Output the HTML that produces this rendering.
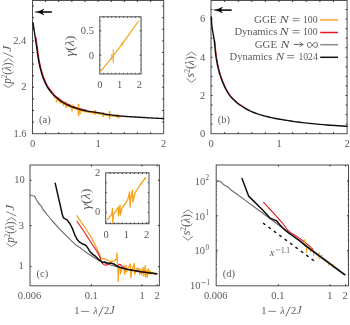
<!DOCTYPE html>
<html><head><meta charset="utf-8"><style>
html,body{margin:0;padding:0;background:#fff;width:350px;height:325px;overflow:hidden}
svg{display:block;will-change:transform}
text{font-family:"Liberation Serif",serif}
</style></head><body>
<svg width="350" height="325" viewBox="0 0 350 325">
<rect x="32.50" y="0.50" width="131.20" height="133.20" fill="none" stroke="#4e4e4e" stroke-width="1.0"/>
<line x1="45.62" y1="133.70" x2="45.62" y2="132.20" stroke="#2a2a2a" stroke-width="1.0" />
<line x1="45.62" y1="0.50" x2="45.62" y2="2.00" stroke="#2a2a2a" stroke-width="1.0" />
<line x1="58.74" y1="133.70" x2="58.74" y2="132.20" stroke="#2a2a2a" stroke-width="1.0" />
<line x1="58.74" y1="0.50" x2="58.74" y2="2.00" stroke="#2a2a2a" stroke-width="1.0" />
<line x1="71.86" y1="133.70" x2="71.86" y2="132.20" stroke="#2a2a2a" stroke-width="1.0" />
<line x1="71.86" y1="0.50" x2="71.86" y2="2.00" stroke="#2a2a2a" stroke-width="1.0" />
<line x1="84.98" y1="133.70" x2="84.98" y2="132.20" stroke="#2a2a2a" stroke-width="1.0" />
<line x1="84.98" y1="0.50" x2="84.98" y2="2.00" stroke="#2a2a2a" stroke-width="1.0" />
<line x1="98.10" y1="133.70" x2="98.10" y2="132.20" stroke="#2a2a2a" stroke-width="1.0" />
<line x1="98.10" y1="0.50" x2="98.10" y2="2.00" stroke="#2a2a2a" stroke-width="1.0" />
<line x1="111.22" y1="133.70" x2="111.22" y2="132.20" stroke="#2a2a2a" stroke-width="1.0" />
<line x1="111.22" y1="0.50" x2="111.22" y2="2.00" stroke="#2a2a2a" stroke-width="1.0" />
<line x1="124.34" y1="133.70" x2="124.34" y2="132.20" stroke="#2a2a2a" stroke-width="1.0" />
<line x1="124.34" y1="0.50" x2="124.34" y2="2.00" stroke="#2a2a2a" stroke-width="1.0" />
<line x1="137.46" y1="133.70" x2="137.46" y2="132.20" stroke="#2a2a2a" stroke-width="1.0" />
<line x1="137.46" y1="0.50" x2="137.46" y2="2.00" stroke="#2a2a2a" stroke-width="1.0" />
<line x1="150.58" y1="133.70" x2="150.58" y2="132.20" stroke="#2a2a2a" stroke-width="1.0" />
<line x1="150.58" y1="0.50" x2="150.58" y2="2.00" stroke="#2a2a2a" stroke-width="1.0" />
<line x1="32.50" y1="122.10" x2="34.00" y2="122.10" stroke="#2a2a2a" stroke-width="1.0" />
<line x1="163.70" y1="122.10" x2="162.20" y2="122.10" stroke="#2a2a2a" stroke-width="1.0" />
<line x1="32.50" y1="110.50" x2="34.00" y2="110.50" stroke="#2a2a2a" stroke-width="1.0" />
<line x1="163.70" y1="110.50" x2="162.20" y2="110.50" stroke="#2a2a2a" stroke-width="1.0" />
<line x1="32.50" y1="98.90" x2="34.00" y2="98.90" stroke="#2a2a2a" stroke-width="1.0" />
<line x1="163.70" y1="98.90" x2="162.20" y2="98.90" stroke="#2a2a2a" stroke-width="1.0" />
<line x1="32.50" y1="87.30" x2="34.00" y2="87.30" stroke="#2a2a2a" stroke-width="1.0" />
<line x1="163.70" y1="87.30" x2="162.20" y2="87.30" stroke="#2a2a2a" stroke-width="1.0" />
<line x1="32.50" y1="75.70" x2="34.00" y2="75.70" stroke="#2a2a2a" stroke-width="1.0" />
<line x1="163.70" y1="75.70" x2="162.20" y2="75.70" stroke="#2a2a2a" stroke-width="1.0" />
<line x1="32.50" y1="64.10" x2="34.00" y2="64.10" stroke="#2a2a2a" stroke-width="1.0" />
<line x1="163.70" y1="64.10" x2="162.20" y2="64.10" stroke="#2a2a2a" stroke-width="1.0" />
<line x1="32.50" y1="52.50" x2="34.00" y2="52.50" stroke="#2a2a2a" stroke-width="1.0" />
<line x1="163.70" y1="52.50" x2="162.20" y2="52.50" stroke="#2a2a2a" stroke-width="1.0" />
<line x1="32.50" y1="40.90" x2="34.00" y2="40.90" stroke="#2a2a2a" stroke-width="1.0" />
<line x1="163.70" y1="40.90" x2="162.20" y2="40.90" stroke="#2a2a2a" stroke-width="1.0" />
<line x1="32.50" y1="29.30" x2="34.00" y2="29.30" stroke="#2a2a2a" stroke-width="1.0" />
<line x1="163.70" y1="29.30" x2="162.20" y2="29.30" stroke="#2a2a2a" stroke-width="1.0" />
<line x1="32.50" y1="17.70" x2="34.00" y2="17.70" stroke="#2a2a2a" stroke-width="1.0" />
<line x1="163.70" y1="17.70" x2="162.20" y2="17.70" stroke="#2a2a2a" stroke-width="1.0" />
<line x1="32.50" y1="6.10" x2="34.00" y2="6.10" stroke="#2a2a2a" stroke-width="1.0" />
<line x1="163.70" y1="6.10" x2="162.20" y2="6.10" stroke="#2a2a2a" stroke-width="1.0" />
<text x="26.30" y="44.00" text-anchor="end" font-size="10.5" fill="#5a5a5a" >2.4</text>
<text x="26.50" y="89.80" text-anchor="end" font-size="10.5" fill="#5a5a5a" >2</text>
<text x="26.50" y="136.60" text-anchor="end" font-size="10.5" fill="#5a5a5a" >1.6</text>
<text x="32.50" y="147.20" text-anchor="middle" font-size="10.5" fill="#5a5a5a" >0</text>
<text x="98.10" y="147.20" text-anchor="middle" font-size="10.5" fill="#5a5a5a" >1</text>
<text x="163.70" y="147.20" text-anchor="middle" font-size="10.5" fill="#5a5a5a" >2</text>
<text x="44.90" y="123.40" text-anchor="middle" font-size="10.5" fill="#5a5a5a" >(a)</text>
<g transform="translate(10.80,66.40) rotate(-90)"><path d="M-17.90,-7.4 L-21.30,-2.45 L-17.90,2.5" fill="none" stroke="#5a5a5a" stroke-width="0.75"/><text x="-17.30" y="0" font-size="12" fill="#5a5a5a" textLength="21.20" lengthAdjust="spacingAndGlyphs"><tspan font-style="italic">p</tspan><tspan font-size="7.5" dy="-4.2">2</tspan><tspan dy="4.2">(</tspan><tspan font-style="italic">λ</tspan>)</text><path d="M4.40,-7.4 L7.90,-2.45 L4.40,2.5" fill="none" stroke="#5a5a5a" stroke-width="0.75"/><path d="M9.40,2.4 L13.90,-7.6" fill="none" stroke="#5a5a5a" stroke-width="0.75"/><text x="14.60" y="0" font-size="12" fill="#5a5a5a" textLength="6.20" lengthAdjust="spacingAndGlyphs"><tspan font-style="italic">J</tspan></text></g>
<line x1="40.00" y1="12.00" x2="51.80" y2="12.00" stroke="#000" stroke-width="1.5" />
<path d="M35.00,12.00 Q40.00,11.40 44.00,9.00 Q42.00,11.20 42.50,12.00 Q42.00,12.80 44.00,15.00 Q40.00,12.60 35.00,12.00 Z" fill="#000" stroke="#000" stroke-width="0.4"/>
<polyline points="35.84,37.44 36.00,38.43 36.15,39.43 36.30,40.40 36.44,41.38 36.59,42.37 36.73,43.38 36.88,44.39 37.01,45.38 37.15,46.36 37.28,47.30 37.40,48.20 37.51,49.05 37.61,49.84 37.70,50.61 37.79,51.35 37.88,52.09 37.98,52.83 38.08,53.60 38.20,54.40 38.33,55.22 38.45,56.05 38.59,56.89 38.73,57.74 38.87,58.61 39.03,59.50 39.21,60.43 39.40,61.40 39.61,62.42 39.82,63.48 40.06,64.58 40.30,65.70 40.56,66.84 40.82,67.97 41.11,69.10 41.40,70.20 41.70,71.29 42.01,72.37 42.33,73.45 42.66,74.53 43.01,75.60 43.38,76.67 43.78,77.74 44.20,78.80 44.65,79.87 45.12,80.94 45.62,82.02 46.13,83.09 46.67,84.15 47.23,85.20 47.80,86.21 48.40,87.20 49.03,88.17 49.70,89.13 50.40,90.09 51.11,91.01 51.83,91.91 52.54,92.76 53.24,93.56 53.90,94.30 54.54,94.97 55.17,95.59 55.80,96.15 56.41,96.67 57.00,97.15 57.59,97.62 58.15,98.06 58.70,98.50 59.21,98.92 59.69,99.30 60.15,99.66 60.59,99.99 61.03,100.32 61.49,100.64 61.97,100.96 62.50,101.30 63.07,101.65 63.67,101.99 64.29,102.34 64.92,102.69 65.57,103.03 66.22,103.36 66.87,103.69 67.50,104.00 68.12,104.30 68.75,104.60 69.38,104.88 70.00,105.16 70.62,105.43 71.25,105.70 71.88,105.95 72.50,106.20 73.12,106.44 73.75,106.66 74.38,106.88 75.00,107.09 75.62,107.30 76.25,107.50 76.88,107.70 77.50,107.90 78.12,108.10 78.73,108.30 79.33,108.49 79.94,108.68 80.55,108.87 81.18,109.05 81.83,109.23 82.50,109.40 83.20,109.57 83.91,109.73 84.63,109.88 85.38,110.03 86.13,110.18" fill="none" stroke="#e8141e" stroke-width="1.2" stroke-linejoin="round" stroke-linecap="round" />
<polyline points="54.04,96.47 54.67,97.09 55.30,97.65 55.91,98.17 56.50,98.65 57.09,99.12 57.65,99.56 58.20,100.00 58.71,100.42 59.19,100.80 59.65,101.16 60.09,101.49 60.53,101.82 60.99,102.14 61.47,102.46 62.00,102.80 62.57,103.15 63.17,103.49 63.79,103.84 64.42,104.19 65.07,104.53 65.72,104.86 66.37,105.19 67.00,105.50 67.62,105.80 68.25,106.10 68.88,106.38 69.50,106.66 70.12,106.93 70.75,107.20 71.38,107.45 72.00,107.70 72.62,107.94 73.25,108.16 73.88,108.38 74.50,108.59 75.12,108.80 75.75,109.00 76.38,109.20 77.00,109.40 77.62,109.60 78.23,109.80 78.83,109.99 79.44,110.18 80.05,110.37 80.68,110.55 81.33,110.73 82.00,110.90 82.70,111.07 83.41,111.23 84.13,111.38 84.88,111.53 85.63,111.68 86.41,111.82 87.20,111.96 88.00,112.10 88.84,112.24 89.73,112.37 90.64,112.50 91.56,112.62 92.48,112.75 93.37,112.87 94.21,112.99 95.00,113.10 95.72,113.21 96.39,113.31 97.02,113.40 97.62,113.49 98.21,113.59 98.80,113.68 99.39,113.79 100.00,113.90 100.62,114.03 101.25,114.16 101.88,114.31 102.50,114.46 103.12,114.60 103.75,114.75 104.38,114.88 105.00,115.00 105.59,115.10 106.13,115.19 106.66,115.27 107.19,115.34 107.76,115.42 108.40,115.50 109.14,115.59 110.00,115.70 111.01,115.83 112.15,115.98 113.38,116.14 114.69,116.30 116.03,116.46 117.38,116.62 118.72,116.77 120.00,116.90" fill="none" stroke="#f8a31c" stroke-width="1.3" stroke-linejoin="round" stroke-linecap="round" />
<line x1="56.50" y1="99.80" x2="56.50" y2="102.50" stroke="#f8a31c" stroke-width="1.6" />
<line x1="60.50" y1="100.80" x2="60.50" y2="103.50" stroke="#f8a31c" stroke-width="1.6" />
<line x1="63.50" y1="103.50" x2="63.50" y2="105.80" stroke="#f8a31c" stroke-width="1.6" />
<line x1="66.00" y1="101.50" x2="66.00" y2="108.00" stroke="#f8a31c" stroke-width="1.6" />
<line x1="72.00" y1="104.50" x2="72.00" y2="111.50" stroke="#f8a31c" stroke-width="1.6" />
<line x1="78.50" y1="103.80" x2="78.50" y2="116.00" stroke="#f8a31c" stroke-width="1.6" />
<line x1="80.00" y1="109.50" x2="80.00" y2="114.50" stroke="#f8a31c" stroke-width="1.6" />
<line x1="94.70" y1="110.00" x2="94.70" y2="115.00" stroke="#f8a31c" stroke-width="1.6" />
<line x1="103.30" y1="112.00" x2="103.30" y2="117.20" stroke="#f8a31c" stroke-width="1.6" />
<line x1="109.60" y1="110.90" x2="109.60" y2="118.90" stroke="#f8a31c" stroke-width="1.6" />
<line x1="118.00" y1="114.00" x2="118.00" y2="118.20" stroke="#f8a31c" stroke-width="1.6" />
<polyline points="33.00,22.60 33.06,23.02 33.14,23.57 33.24,24.23 33.35,24.96 33.46,25.74 33.58,26.52 33.69,27.29 33.80,28.00 33.90,28.66 33.99,29.30 34.08,29.93 34.17,30.56 34.27,31.21 34.37,31.90 34.48,32.62 34.60,33.40 34.73,34.24 34.87,35.14 35.03,36.08 35.18,37.05 35.34,38.04 35.50,39.03 35.65,40.03 35.80,41.00 35.94,41.98 36.09,42.97 36.23,43.98 36.38,44.99 36.51,45.98 36.65,46.96 36.78,47.90 36.90,48.80 37.01,49.65 37.11,50.44 37.20,51.21 37.29,51.95 37.38,52.69 37.48,53.43 37.58,54.20 37.70,55.00 37.83,55.82 37.95,56.65 38.09,57.49 38.23,58.34 38.37,59.21 38.53,60.10 38.71,61.03 38.90,62.00 39.11,63.02 39.32,64.08 39.56,65.18 39.80,66.30 40.06,67.44 40.32,68.57 40.61,69.70 40.90,70.80 41.20,71.89 41.51,72.97 41.83,74.05 42.16,75.13 42.51,76.20 42.88,77.27 43.28,78.34 43.70,79.40 44.15,80.47 44.62,81.54 45.12,82.62 45.63,83.69 46.17,84.75 46.73,85.80 47.30,86.81 47.90,87.80 48.53,88.77 49.20,89.73 49.90,90.69 50.61,91.61 51.33,92.51 52.04,93.36 52.74,94.16 53.40,94.90 54.04,95.57 54.67,96.19 55.30,96.75 55.91,97.27 56.50,97.75 57.09,98.22 57.65,98.66 58.20,99.10 58.71,99.52 59.19,99.90 59.65,100.26 60.09,100.59 60.53,100.92 60.99,101.24 61.47,101.56 62.00,101.90 62.57,102.25 63.17,102.59 63.79,102.94 64.42,103.29 65.07,103.63 65.72,103.96 66.37,104.29 67.00,104.60 67.62,104.90 68.25,105.20 68.88,105.48 69.50,105.76 70.12,106.03 70.75,106.30 71.38,106.55 72.00,106.80 72.62,107.04 73.25,107.26 73.88,107.48 74.50,107.69 75.12,107.90 75.75,108.10 76.38,108.30 77.00,108.50 77.62,108.70 78.23,108.90 78.83,109.09 79.44,109.28 80.05,109.47 80.68,109.65 81.33,109.83 82.00,110.00 82.70,110.17 83.41,110.33 84.13,110.48 84.88,110.63 85.63,110.78 86.41,110.92 87.20,111.06 88.00,111.20 88.84,111.34 89.73,111.47 90.64,111.60 91.56,111.72 92.48,111.85 93.37,111.97 94.21,112.09 95.00,112.20 95.72,112.31 96.39,112.41 97.02,112.50 97.62,112.59 98.21,112.69 98.80,112.78 99.39,112.89 100.00,113.00 100.62,113.13 101.25,113.26 101.88,113.41 102.50,113.56 103.12,113.70 103.75,113.85 104.38,113.98 105.00,114.10 105.59,114.20 106.13,114.29 106.66,114.37 107.19,114.44 107.76,114.52 108.40,114.60 109.14,114.69 110.00,114.80 111.01,114.93 112.15,115.08 113.38,115.24 114.69,115.40 116.03,115.56 117.38,115.72 118.72,115.87 120.00,116.00 121.25,116.11 122.50,116.21 123.75,116.30 125.00,116.39 126.25,116.47 127.50,116.54 128.75,116.62 130.00,116.70 131.24,116.78 132.45,116.85 133.66,116.93 134.88,117.00 136.10,117.07 137.36,117.15 138.65,117.22 140.00,117.30 141.41,117.38 142.87,117.47 144.38,117.56 145.91,117.65 147.45,117.74 148.99,117.83 150.51,117.92 152.00,118.00 153.54,118.08 155.18,118.17 156.85,118.26 158.50,118.34 160.05,118.42 161.45,118.49 162.62,118.55 163.50,118.60" fill="none" stroke="#101010" stroke-width="1.4" stroke-linejoin="round" stroke-linecap="round" />
<rect x="99.80" y="16.80" width="41.30" height="57.20" fill="none" stroke="#4e4e4e" stroke-width="1.0"/>
<line x1="103.75" y1="74.00" x2="103.75" y2="72.80" stroke="#2a2a2a" stroke-width="0.7" />
<line x1="103.75" y1="16.80" x2="103.75" y2="18.00" stroke="#2a2a2a" stroke-width="0.7" />
<line x1="107.70" y1="74.00" x2="107.70" y2="72.80" stroke="#2a2a2a" stroke-width="0.7" />
<line x1="107.70" y1="16.80" x2="107.70" y2="18.00" stroke="#2a2a2a" stroke-width="0.7" />
<line x1="111.65" y1="74.00" x2="111.65" y2="72.80" stroke="#2a2a2a" stroke-width="0.7" />
<line x1="111.65" y1="16.80" x2="111.65" y2="18.00" stroke="#2a2a2a" stroke-width="0.7" />
<line x1="115.60" y1="74.00" x2="115.60" y2="72.80" stroke="#2a2a2a" stroke-width="0.7" />
<line x1="115.60" y1="16.80" x2="115.60" y2="18.00" stroke="#2a2a2a" stroke-width="0.7" />
<line x1="119.55" y1="74.00" x2="119.55" y2="72.80" stroke="#2a2a2a" stroke-width="0.7" />
<line x1="119.55" y1="16.80" x2="119.55" y2="18.00" stroke="#2a2a2a" stroke-width="0.7" />
<line x1="123.50" y1="74.00" x2="123.50" y2="72.80" stroke="#2a2a2a" stroke-width="0.7" />
<line x1="123.50" y1="16.80" x2="123.50" y2="18.00" stroke="#2a2a2a" stroke-width="0.7" />
<line x1="127.45" y1="74.00" x2="127.45" y2="72.80" stroke="#2a2a2a" stroke-width="0.7" />
<line x1="127.45" y1="16.80" x2="127.45" y2="18.00" stroke="#2a2a2a" stroke-width="0.7" />
<line x1="131.40" y1="74.00" x2="131.40" y2="72.80" stroke="#2a2a2a" stroke-width="0.7" />
<line x1="131.40" y1="16.80" x2="131.40" y2="18.00" stroke="#2a2a2a" stroke-width="0.7" />
<line x1="135.35" y1="74.00" x2="135.35" y2="72.80" stroke="#2a2a2a" stroke-width="0.7" />
<line x1="135.35" y1="16.80" x2="135.35" y2="18.00" stroke="#2a2a2a" stroke-width="0.7" />
<line x1="139.30" y1="74.00" x2="139.30" y2="72.80" stroke="#2a2a2a" stroke-width="0.7" />
<line x1="139.30" y1="16.80" x2="139.30" y2="18.00" stroke="#2a2a2a" stroke-width="0.7" />
<line x1="99.80" y1="69.52" x2="100.80" y2="69.52" stroke="#2a2a2a" stroke-width="0.45" />
<line x1="141.10" y1="69.52" x2="140.10" y2="69.52" stroke="#2a2a2a" stroke-width="0.45" />
<line x1="99.80" y1="64.68" x2="100.80" y2="64.68" stroke="#2a2a2a" stroke-width="0.45" />
<line x1="141.10" y1="64.68" x2="140.10" y2="64.68" stroke="#2a2a2a" stroke-width="0.45" />
<line x1="99.80" y1="59.84" x2="100.80" y2="59.84" stroke="#2a2a2a" stroke-width="0.45" />
<line x1="141.10" y1="59.84" x2="140.10" y2="59.84" stroke="#2a2a2a" stroke-width="0.45" />
<line x1="99.80" y1="55.00" x2="100.80" y2="55.00" stroke="#2a2a2a" stroke-width="0.45" />
<line x1="141.10" y1="55.00" x2="140.10" y2="55.00" stroke="#2a2a2a" stroke-width="0.45" />
<line x1="99.80" y1="50.16" x2="100.80" y2="50.16" stroke="#2a2a2a" stroke-width="0.45" />
<line x1="141.10" y1="50.16" x2="140.10" y2="50.16" stroke="#2a2a2a" stroke-width="0.45" />
<line x1="99.80" y1="45.32" x2="100.80" y2="45.32" stroke="#2a2a2a" stroke-width="0.45" />
<line x1="141.10" y1="45.32" x2="140.10" y2="45.32" stroke="#2a2a2a" stroke-width="0.45" />
<line x1="99.80" y1="40.48" x2="100.80" y2="40.48" stroke="#2a2a2a" stroke-width="0.45" />
<line x1="141.10" y1="40.48" x2="140.10" y2="40.48" stroke="#2a2a2a" stroke-width="0.45" />
<line x1="99.80" y1="35.64" x2="100.80" y2="35.64" stroke="#2a2a2a" stroke-width="0.45" />
<line x1="141.10" y1="35.64" x2="140.10" y2="35.64" stroke="#2a2a2a" stroke-width="0.45" />
<line x1="99.80" y1="30.80" x2="100.80" y2="30.80" stroke="#2a2a2a" stroke-width="0.45" />
<line x1="141.10" y1="30.80" x2="140.10" y2="30.80" stroke="#2a2a2a" stroke-width="0.45" />
<line x1="99.80" y1="25.96" x2="100.80" y2="25.96" stroke="#2a2a2a" stroke-width="0.45" />
<line x1="141.10" y1="25.96" x2="140.10" y2="25.96" stroke="#2a2a2a" stroke-width="0.45" />
<line x1="99.80" y1="21.12" x2="100.80" y2="21.12" stroke="#2a2a2a" stroke-width="0.45" />
<line x1="141.10" y1="21.12" x2="140.10" y2="21.12" stroke="#2a2a2a" stroke-width="0.45" />
<line x1="99.80" y1="55.00" x2="101.20" y2="55.00" stroke="#2a2a2a" stroke-width="0.9" />
<line x1="141.10" y1="55.00" x2="139.70" y2="55.00" stroke="#2a2a2a" stroke-width="0.9" />
<line x1="99.80" y1="30.80" x2="101.20" y2="30.80" stroke="#2a2a2a" stroke-width="0.9" />
<line x1="141.10" y1="30.80" x2="139.70" y2="30.80" stroke="#2a2a2a" stroke-width="0.9" />
<text x="93.90" y="34.30" text-anchor="end" font-size="10.5" fill="#5a5a5a" >0.5</text>
<text x="93.90" y="58.50" text-anchor="end" font-size="10.5" fill="#5a5a5a" >0</text>
<text x="99.80" y="87.90" text-anchor="middle" font-size="10.5" fill="#5a5a5a" >0</text>
<text x="119.55" y="87.90" text-anchor="middle" font-size="10.5" fill="#5a5a5a" >1</text>
<text x="139.30" y="87.90" text-anchor="middle" font-size="10.5" fill="#5a5a5a" >2</text>
<text transform="translate(73.60,46.00) rotate(-90)" text-anchor="middle" font-size="12" fill="#5a5a5a" textLength="21" lengthAdjust="spacingAndGlyphs"><tspan font-style="italic">γ</tspan>(<tspan font-style="italic">λ</tspan>)</text>
<polyline points="100.90,71.10 106.00,64.80 110.50,59.20 112.00,57.40 113.30,55.60 118.00,49.60 122.20,43.90 130.00,33.20 138.30,21.50" fill="none" stroke="#f8a31c" stroke-width="1.2" stroke-linejoin="round" stroke-linecap="round" />
<line x1="113.30" y1="49.40" x2="113.30" y2="63.20" stroke="#f8a31c" stroke-width="1.1" />
<line x1="111.80" y1="54.00" x2="111.80" y2="60.00" stroke="#f8a31c" stroke-width="1.1" />
<line x1="122.20" y1="42.00" x2="122.20" y2="46.00" stroke="#f8a31c" stroke-width="1.0" />
<rect x="211.00" y="0.50" width="136.10" height="133.20" fill="none" stroke="#4e4e4e" stroke-width="1.0"/>
<line x1="224.61" y1="133.70" x2="224.61" y2="132.20" stroke="#2a2a2a" stroke-width="1.0" />
<line x1="224.61" y1="0.50" x2="224.61" y2="2.00" stroke="#2a2a2a" stroke-width="1.0" />
<line x1="238.22" y1="133.70" x2="238.22" y2="132.20" stroke="#2a2a2a" stroke-width="1.0" />
<line x1="238.22" y1="0.50" x2="238.22" y2="2.00" stroke="#2a2a2a" stroke-width="1.0" />
<line x1="251.83" y1="133.70" x2="251.83" y2="132.20" stroke="#2a2a2a" stroke-width="1.0" />
<line x1="251.83" y1="0.50" x2="251.83" y2="2.00" stroke="#2a2a2a" stroke-width="1.0" />
<line x1="265.44" y1="133.70" x2="265.44" y2="132.20" stroke="#2a2a2a" stroke-width="1.0" />
<line x1="265.44" y1="0.50" x2="265.44" y2="2.00" stroke="#2a2a2a" stroke-width="1.0" />
<line x1="279.05" y1="133.70" x2="279.05" y2="132.20" stroke="#2a2a2a" stroke-width="1.0" />
<line x1="279.05" y1="0.50" x2="279.05" y2="2.00" stroke="#2a2a2a" stroke-width="1.0" />
<line x1="292.66" y1="133.70" x2="292.66" y2="132.20" stroke="#2a2a2a" stroke-width="1.0" />
<line x1="292.66" y1="0.50" x2="292.66" y2="2.00" stroke="#2a2a2a" stroke-width="1.0" />
<line x1="306.27" y1="133.70" x2="306.27" y2="132.20" stroke="#2a2a2a" stroke-width="1.0" />
<line x1="306.27" y1="0.50" x2="306.27" y2="2.00" stroke="#2a2a2a" stroke-width="1.0" />
<line x1="319.88" y1="133.70" x2="319.88" y2="132.20" stroke="#2a2a2a" stroke-width="1.0" />
<line x1="319.88" y1="0.50" x2="319.88" y2="2.00" stroke="#2a2a2a" stroke-width="1.0" />
<line x1="333.49" y1="133.70" x2="333.49" y2="132.20" stroke="#2a2a2a" stroke-width="1.0" />
<line x1="333.49" y1="0.50" x2="333.49" y2="2.00" stroke="#2a2a2a" stroke-width="1.0" />
<line x1="211.00" y1="124.15" x2="212.50" y2="124.15" stroke="#2a2a2a" stroke-width="1.0" />
<line x1="347.10" y1="124.15" x2="345.60" y2="124.15" stroke="#2a2a2a" stroke-width="1.0" />
<line x1="211.00" y1="114.60" x2="212.50" y2="114.60" stroke="#2a2a2a" stroke-width="1.0" />
<line x1="347.10" y1="114.60" x2="345.60" y2="114.60" stroke="#2a2a2a" stroke-width="1.0" />
<line x1="211.00" y1="105.05" x2="212.50" y2="105.05" stroke="#2a2a2a" stroke-width="1.0" />
<line x1="347.10" y1="105.05" x2="345.60" y2="105.05" stroke="#2a2a2a" stroke-width="1.0" />
<line x1="211.00" y1="95.50" x2="212.50" y2="95.50" stroke="#2a2a2a" stroke-width="1.0" />
<line x1="347.10" y1="95.50" x2="345.60" y2="95.50" stroke="#2a2a2a" stroke-width="1.0" />
<line x1="211.00" y1="85.95" x2="212.50" y2="85.95" stroke="#2a2a2a" stroke-width="1.0" />
<line x1="347.10" y1="85.95" x2="345.60" y2="85.95" stroke="#2a2a2a" stroke-width="1.0" />
<line x1="211.00" y1="76.40" x2="212.50" y2="76.40" stroke="#2a2a2a" stroke-width="1.0" />
<line x1="347.10" y1="76.40" x2="345.60" y2="76.40" stroke="#2a2a2a" stroke-width="1.0" />
<line x1="211.00" y1="66.85" x2="212.50" y2="66.85" stroke="#2a2a2a" stroke-width="1.0" />
<line x1="347.10" y1="66.85" x2="345.60" y2="66.85" stroke="#2a2a2a" stroke-width="1.0" />
<line x1="211.00" y1="57.30" x2="212.50" y2="57.30" stroke="#2a2a2a" stroke-width="1.0" />
<line x1="347.10" y1="57.30" x2="345.60" y2="57.30" stroke="#2a2a2a" stroke-width="1.0" />
<line x1="211.00" y1="47.75" x2="212.50" y2="47.75" stroke="#2a2a2a" stroke-width="1.0" />
<line x1="347.10" y1="47.75" x2="345.60" y2="47.75" stroke="#2a2a2a" stroke-width="1.0" />
<line x1="211.00" y1="38.20" x2="212.50" y2="38.20" stroke="#2a2a2a" stroke-width="1.0" />
<line x1="347.10" y1="38.20" x2="345.60" y2="38.20" stroke="#2a2a2a" stroke-width="1.0" />
<line x1="211.00" y1="28.65" x2="212.50" y2="28.65" stroke="#2a2a2a" stroke-width="1.0" />
<line x1="347.10" y1="28.65" x2="345.60" y2="28.65" stroke="#2a2a2a" stroke-width="1.0" />
<line x1="211.00" y1="19.10" x2="212.50" y2="19.10" stroke="#2a2a2a" stroke-width="1.0" />
<line x1="347.10" y1="19.10" x2="345.60" y2="19.10" stroke="#2a2a2a" stroke-width="1.0" />
<line x1="211.00" y1="9.55" x2="212.50" y2="9.55" stroke="#2a2a2a" stroke-width="1.0" />
<line x1="347.10" y1="9.55" x2="345.60" y2="9.55" stroke="#2a2a2a" stroke-width="1.0" />
<text x="202.50" y="136.70" text-anchor="middle" font-size="10.5" fill="#5a5a5a" >0</text>
<text x="202.50" y="98.50" text-anchor="middle" font-size="10.5" fill="#5a5a5a" >2</text>
<text x="202.50" y="60.70" text-anchor="middle" font-size="10.5" fill="#5a5a5a" >4</text>
<text x="202.50" y="22.10" text-anchor="middle" font-size="10.5" fill="#5a5a5a" >6</text>
<text x="211.00" y="147.20" text-anchor="middle" font-size="10.5" fill="#5a5a5a" >0</text>
<text x="279.05" y="147.20" text-anchor="middle" font-size="10.5" fill="#5a5a5a" >1</text>
<text x="347.10" y="147.20" text-anchor="middle" font-size="10.5" fill="#5a5a5a" >2</text>
<text x="223.90" y="123.40" text-anchor="middle" font-size="10.5" fill="#5a5a5a" >(b)</text>
<g transform="translate(193.90,67.15) rotate(-90)"><path d="M-11.30,-7.4 L-15.20,-2.45 L-11.30,2.5" fill="none" stroke="#5a5a5a" stroke-width="0.75"/><text x="-10.30" y="0" font-size="12" fill="#5a5a5a" textLength="21.40" lengthAdjust="spacingAndGlyphs"><tspan font-style="italic">s</tspan><tspan font-size="7.5" dy="-4.2">2</tspan><tspan dy="4.2">(</tspan><tspan font-style="italic">λ</tspan>)</text><path d="M11.70,-7.4 L15.20,-2.45 L11.70,2.5" fill="none" stroke="#5a5a5a" stroke-width="0.75"/></g>
<line x1="218.60" y1="10.10" x2="231.70" y2="10.10" stroke="#000" stroke-width="1.5" />
<path d="M213.60,10.10 Q218.60,9.50 222.60,7.10 Q220.60,9.30 221.10,10.10 Q220.60,10.90 222.60,13.10 Q218.60,10.70 213.60,10.10 Z" fill="#000" stroke="#000" stroke-width="0.4"/>
<polyline points="214.84,40.78 214.96,41.89 215.07,43.02 215.17,44.17 215.28,45.32 215.38,46.46 215.49,47.59 215.60,48.70 215.71,49.78 215.82,50.83 215.93,51.86 216.04,52.89 216.15,53.92 216.28,54.98 216.43,56.07 216.60,57.20 216.79,58.38 216.99,59.61 217.21,60.86 217.44,62.14 217.69,63.42 217.95,64.70 218.22,65.96 218.50,67.20 218.79,68.41 219.09,69.61 219.41,70.80 219.73,71.98 220.07,73.16 220.43,74.34 220.80,75.52 221.20,76.70 221.62,77.90 222.06,79.11 222.51,80.33 222.99,81.54 223.48,82.75 223.97,83.93 224.48,85.08 225.00,86.20 225.52,87.29 226.05,88.35 226.59,89.40 227.14,90.42 227.71,91.41 228.29,92.38 228.88,93.31 229.50,94.20 230.14,95.06 230.80,95.87 231.49,96.66 232.19,97.41 232.89,98.14 233.60,98.85 234.31,99.53 235.00,100.20 235.66,100.83 236.27,101.42 236.86,101.97 237.47,102.51 238.11,103.05 238.81,103.60 239.60,104.18 240.50,104.80 241.53,105.48 242.68,106.21 243.92,106.97 245.22,107.75 246.55,108.52 247.89,109.26 249.22,109.96" fill="none" stroke="#e8141e" stroke-width="1.0" stroke-linejoin="round" stroke-linecap="round" />
<polyline points="211.30,17.00 211.34,17.62 211.38,18.46 211.43,19.46 211.49,20.56 211.55,21.72 211.63,22.88 211.71,23.99 211.80,25.00 211.90,25.92 212.01,26.80 212.12,27.65 212.24,28.50 212.37,29.35 212.51,30.20 212.65,31.08 212.80,32.00 212.96,32.95 213.13,33.91 213.32,34.88 213.51,35.88 213.69,36.88 213.88,37.91 214.05,38.95 214.20,40.00 214.34,41.08 214.46,42.19 214.57,43.32 214.67,44.47 214.78,45.62 214.88,46.76 214.99,47.89 215.10,49.00 215.21,50.08 215.32,51.12 215.43,52.16 215.54,53.19 215.65,54.22 215.78,55.28 215.93,56.37 216.10,57.50 216.29,58.68 216.49,59.91 216.71,61.16 216.94,62.44 217.19,63.72 217.45,65.00 217.72,66.26 218.00,67.50 218.29,68.71 218.59,69.91 218.91,71.10 219.23,72.28 219.57,73.46 219.93,74.64 220.30,75.82 220.70,77.00 221.12,78.20 221.56,79.41 222.01,80.63 222.49,81.84 222.98,83.05 223.47,84.23 223.98,85.38 224.50,86.50 225.02,87.59 225.55,88.65 226.09,89.70 226.64,90.72 227.21,91.71 227.79,92.68 228.38,93.61 229.00,94.50 229.64,95.36 230.30,96.17 230.99,96.96 231.69,97.71 232.39,98.44 233.10,99.15 233.81,99.83 234.50,100.50 235.16,101.13 235.77,101.72 236.36,102.27 236.97,102.81 237.61,103.35 238.31,103.90 239.10,104.48 240.00,105.10 241.03,105.78 242.18,106.51 243.42,107.27 244.72,108.05 246.05,108.82 247.39,109.56 248.72,110.26 250.00,110.90 251.25,111.48 252.50,112.02 253.75,112.52 255.00,113.00 256.25,113.45 257.50,113.88 258.75,114.30 260.00,114.70 261.25,115.09 262.50,115.45 263.75,115.79 265.00,116.11 266.25,116.42 267.50,116.72 268.75,117.01 270.00,117.30 271.18,117.57 272.27,117.82 273.31,118.05 274.38,118.27 275.52,118.50 276.80,118.74 278.27,119.01 280.00,119.30 282.02,119.63 284.30,120.00 286.77,120.39 289.38,120.79 292.06,121.20 294.77,121.59 297.43,121.96 300.00,122.30 302.45,122.61 304.84,122.89 307.19,123.16 309.56,123.41 311.99,123.66 314.51,123.90 317.17,124.15 320.00,124.40 323.22,124.67 326.89,124.95 330.80,125.25 334.75,125.53 338.54,125.80 341.98,126.04 344.87,126.25 347.00,126.40" fill="none" stroke="#101010" stroke-width="1.4" stroke-linejoin="round" stroke-linecap="round" />
<line x1="320.20" y1="19.90" x2="338.00" y2="19.90" stroke="#f8a31c" stroke-width="1.5" />
<line x1="320.20" y1="32.50" x2="338.00" y2="32.50" stroke="#e8141e" stroke-width="1.5" />
<line x1="320.20" y1="44.70" x2="338.00" y2="44.70" stroke="#8c8c8c" stroke-width="1.5" />
<line x1="320.20" y1="57.30" x2="338.00" y2="57.30" stroke="#101010" stroke-width="1.5" />
<text x="254.00" y="22.90" font-size="10.5" fill="#5a5a5a" textLength="22.60" lengthAdjust="spacingAndGlyphs" >GGE</text>
<text x="279.60" y="22.90"  fill="#5a5a5a" textLength="9.20" lengthAdjust="spacingAndGlyphs" font-style="italic" font-size="11">N</text>
<line x1="292.70" y1="18.40" x2="299.60" y2="18.40" stroke="#6a6a6a" stroke-width="0.8" />
<line x1="292.70" y1="20.70" x2="299.60" y2="20.70" stroke="#6a6a6a" stroke-width="0.8" />
<text x="303.00" y="22.90" font-size="10.5" fill="#5a5a5a" textLength="14.60" lengthAdjust="spacingAndGlyphs" >100</text>
<text x="234.40" y="35.00" font-size="10.5" fill="#5a5a5a" textLength="43.00" lengthAdjust="spacingAndGlyphs" >Dynamics</text>
<text x="279.60" y="35.00"  fill="#5a5a5a" textLength="9.20" lengthAdjust="spacingAndGlyphs" font-style="italic" font-size="11">N</text>
<line x1="292.70" y1="30.50" x2="299.60" y2="30.50" stroke="#6a6a6a" stroke-width="0.8" />
<line x1="292.70" y1="32.80" x2="299.60" y2="32.80" stroke="#6a6a6a" stroke-width="0.8" />
<text x="303.00" y="35.00" font-size="10.5" fill="#5a5a5a" textLength="14.60" lengthAdjust="spacingAndGlyphs" >100</text>
<text x="254.80" y="47.60" font-size="10.5" fill="#5a5a5a" textLength="22.20" lengthAdjust="spacingAndGlyphs" >GGE</text>
<text x="280.60" y="47.60"  fill="#5a5a5a" textLength="9.00" lengthAdjust="spacingAndGlyphs" font-style="italic" font-size="11">N</text>
<line x1="293.90" y1="44.50" x2="302.60" y2="44.50" stroke="#555" stroke-width="0.9" />
<path d="M299.8,41.90 Q300.6,43.90 303.3,44.50 Q300.6,45.10 299.8,47.10" fill="none" stroke="#555" stroke-width="0.9"/>
<path d="M312.4,44.9 C310.59999999999997,41.6 307.4,41.6 307.4,44.9 C307.4,48.199999999999996 310.59999999999997,48.199999999999996 312.4,44.9 C314.2,41.6 317.4,41.6 317.4,44.9 C317.4,48.199999999999996 314.2,48.199999999999996 312.4,44.9 Z" fill="none" stroke="#555" stroke-width="0.9"/>
<text x="229.60" y="60.00" font-size="10.5" fill="#5a5a5a" textLength="42.80" lengthAdjust="spacingAndGlyphs" >Dynamics</text>
<text x="275.80" y="60.00"  fill="#5a5a5a" textLength="8.40" lengthAdjust="spacingAndGlyphs" font-style="italic" font-size="11">N</text>
<line x1="287.20" y1="55.50" x2="294.20" y2="55.50" stroke="#6a6a6a" stroke-width="0.8" />
<line x1="287.20" y1="57.80" x2="294.20" y2="57.80" stroke="#6a6a6a" stroke-width="0.8" />
<text x="298.40" y="60.00" font-size="10.5" fill="#5a5a5a" textLength="19.40" lengthAdjust="spacingAndGlyphs" >1024</text>
<rect x="30.00" y="165.00" width="129.40" height="120.80" fill="none" stroke="#4e4e4e" stroke-width="1.0"/>
<line x1="91.40" y1="285.80" x2="91.40" y2="284.30" stroke="#2a2a2a" stroke-width="1.0" />
<line x1="91.40" y1="165.00" x2="91.40" y2="166.50" stroke="#2a2a2a" stroke-width="1.0" />
<line x1="142.00" y1="285.80" x2="142.00" y2="284.30" stroke="#2a2a2a" stroke-width="1.0" />
<line x1="142.00" y1="165.00" x2="142.00" y2="166.50" stroke="#2a2a2a" stroke-width="1.0" />
<line x1="157.23" y1="285.80" x2="157.23" y2="284.30" stroke="#2a2a2a" stroke-width="1.0" />
<line x1="157.23" y1="165.00" x2="157.23" y2="166.50" stroke="#2a2a2a" stroke-width="1.0" />
<line x1="30.00" y1="180.40" x2="31.50" y2="180.40" stroke="#2a2a2a" stroke-width="1.0" />
<line x1="159.40" y1="180.40" x2="157.90" y2="180.40" stroke="#2a2a2a" stroke-width="1.0" />
<line x1="30.00" y1="225.47" x2="31.50" y2="225.47" stroke="#2a2a2a" stroke-width="1.0" />
<line x1="159.40" y1="225.47" x2="157.90" y2="225.47" stroke="#2a2a2a" stroke-width="1.0" />
<line x1="30.00" y1="266.60" x2="31.50" y2="266.60" stroke="#2a2a2a" stroke-width="1.0" />
<line x1="159.40" y1="266.60" x2="157.90" y2="266.60" stroke="#2a2a2a" stroke-width="1.0" />
<text x="19.45" y="182.70" text-anchor="middle" font-size="10.5" fill="#5a5a5a" >10</text>
<text x="21.25" y="228.75" text-anchor="middle" font-size="10.5" fill="#5a5a5a" >3</text>
<text x="21.10" y="269.40" text-anchor="middle" font-size="10.5" fill="#5a5a5a" >1</text>
<text x="29.45" y="299.10" text-anchor="middle" font-size="10.5" fill="#5a5a5a" >0.006</text>
<text x="91.20" y="298.90" text-anchor="middle" font-size="10.5" fill="#5a5a5a" >0.1</text>
<text x="142.20" y="298.90" text-anchor="middle" font-size="10.5" fill="#5a5a5a" >1</text>
<text x="157.20" y="298.90" text-anchor="middle" font-size="10.5" fill="#5a5a5a" >2</text>
<text x="42.45" y="276.80" text-anchor="middle" font-size="10.5" fill="#5a5a5a" >(c)</text>
<text x="76.80" y="314.30" text-anchor="middle" font-size="10.5" fill="#5a5a5a" >1</text>
<line x1="81.20" y1="311.40" x2="89.10" y2="311.40" stroke="#6a6a6a" stroke-width="0.8" />
<text x="95.60" y="314.30" text-anchor="middle" font-size="10.5" fill="#5a5a5a" font-style="italic">λ</text>
<line x1="103.30" y1="306.60" x2="98.70" y2="316.50" stroke="#555" stroke-width="0.85" />
<text x="106.60" y="314.30" text-anchor="middle" font-size="10.5" fill="#5a5a5a" >2</text>
<text x="112.00" y="314.30" text-anchor="middle" font-size="11.5" fill="#5a5a5a" font-style="italic">J</text>
<g transform="translate(13.90,225.40) rotate(-90)"><path d="M-17.90,-7.4 L-21.30,-2.45 L-17.90,2.5" fill="none" stroke="#5a5a5a" stroke-width="0.75"/><text x="-17.30" y="0" font-size="12" fill="#5a5a5a" textLength="21.20" lengthAdjust="spacingAndGlyphs"><tspan font-style="italic">p</tspan><tspan font-size="7.5" dy="-4.2">2</tspan><tspan dy="4.2">(</tspan><tspan font-style="italic">λ</tspan>)</text><path d="M4.40,-7.4 L7.90,-2.45 L4.40,2.5" fill="none" stroke="#5a5a5a" stroke-width="0.75"/><path d="M9.40,2.4 L13.90,-7.6" fill="none" stroke="#5a5a5a" stroke-width="0.75"/><text x="14.60" y="0" font-size="12" fill="#5a5a5a" textLength="6.20" lengthAdjust="spacingAndGlyphs"><tspan font-style="italic">J</tspan></text></g>
<polyline points="30.30,195.00 34.50,196.20 36.30,199.50 38.80,203.50 41.00,205.80 43.00,209.50 45.00,211.80 47.00,214.50 52.40,221.00 60.60,230.10 69.20,238.70 76.60,245.60 80.60,248.10 89.20,254.50 97.90,259.70 100.40,261.30 108.00,264.20 115.80,266.40 125.00,268.80 140.00,271.50 156.10,274.00" fill="none" stroke="#6c6c6c" stroke-width="1.15" stroke-linejoin="round" stroke-linecap="round" />
<polyline points="76.90,215.90 83.90,226.00 90.50,236.00 94.40,243.80 97.90,250.70 100.40,256.50 101.60,258.40 104.70,259.00 107.80,260.20 110.80,261.50 114.50,260.80 116.40,259.00 116.90,253.10 117.40,262.00 117.80,264.70 118.30,281.30 118.60,268.00 120.10,268.60 120.50,273.70 122.00,269.00 124.00,265.40 124.40,274.30 125.90,265.50 126.30,272.00 128.00,268.00 130.40,264.00 130.80,277.60 132.00,270.00 134.30,263.40 134.70,274.30 136.00,269.00 137.50,268.00 137.90,272.00 139.20,268.50 139.60,274.50 141.30,269.00 141.70,275.00 143.30,267.50 143.70,276.00 145.20,265.60 145.60,277.20 147.00,270.00 147.40,277.00 148.40,269.00 149.00,273.00 150.30,271.00 150.70,274.00 153.00,272.50 154.40,273.80 156.10,274.00" fill="none" stroke="#f8a31c" stroke-width="1.3" stroke-linejoin="round" stroke-linecap="round" />
<polyline points="76.90,221.30 84.50,232.20 86.70,235.80 91.80,243.80 97.00,251.50 99.60,256.50 101.60,262.20 103.50,264.50 105.90,265.20 109.00,263.90 111.50,262.70 113.90,263.90 117.00,266.40 119.00,264.60 120.10,264.20 121.90,266.40 125.00,268.50 130.00,269.70 140.00,271.50 156.10,274.00" fill="none" stroke="#e8141e" stroke-width="1.1" stroke-linejoin="round" stroke-linecap="round" />
<polyline points="55.20,183.20 62.30,214.50 63.40,217.70 64.60,218.60 67.10,219.90 70.10,224.00 72.70,229.20 74.80,235.00 77.00,239.20 79.60,242.20 83.20,244.30 85.80,245.20 87.90,248.10 90.10,251.80 92.70,254.40 95.70,256.40 97.90,258.80 100.40,260.80 102.20,262.50 104.70,261.90 107.80,263.30 110.80,263.10 114.50,264.30 118.20,266.80 121.90,268.00 127.90,269.60 140.70,271.80 156.90,273.80" fill="none" stroke="#101010" stroke-width="1.5" stroke-linejoin="round" stroke-linecap="round" />
<rect x="105.70" y="172.80" width="43.30" height="50.90" fill="none" stroke="#4e4e4e" stroke-width="1.0"/>
<line x1="110.14" y1="223.70" x2="110.14" y2="222.50" stroke="#2a2a2a" stroke-width="1.0" />
<line x1="110.14" y1="172.80" x2="110.14" y2="174.00" stroke="#2a2a2a" stroke-width="1.0" />
<line x1="114.18" y1="223.70" x2="114.18" y2="222.50" stroke="#2a2a2a" stroke-width="1.0" />
<line x1="114.18" y1="172.80" x2="114.18" y2="174.00" stroke="#2a2a2a" stroke-width="1.0" />
<line x1="118.22" y1="223.70" x2="118.22" y2="222.50" stroke="#2a2a2a" stroke-width="1.0" />
<line x1="118.22" y1="172.80" x2="118.22" y2="174.00" stroke="#2a2a2a" stroke-width="1.0" />
<line x1="122.26" y1="223.70" x2="122.26" y2="222.50" stroke="#2a2a2a" stroke-width="1.0" />
<line x1="122.26" y1="172.80" x2="122.26" y2="174.00" stroke="#2a2a2a" stroke-width="1.0" />
<line x1="126.30" y1="223.70" x2="126.30" y2="222.50" stroke="#2a2a2a" stroke-width="1.0" />
<line x1="126.30" y1="172.80" x2="126.30" y2="174.00" stroke="#2a2a2a" stroke-width="1.0" />
<line x1="130.34" y1="223.70" x2="130.34" y2="222.50" stroke="#2a2a2a" stroke-width="1.0" />
<line x1="130.34" y1="172.80" x2="130.34" y2="174.00" stroke="#2a2a2a" stroke-width="1.0" />
<line x1="134.38" y1="223.70" x2="134.38" y2="222.50" stroke="#2a2a2a" stroke-width="1.0" />
<line x1="134.38" y1="172.80" x2="134.38" y2="174.00" stroke="#2a2a2a" stroke-width="1.0" />
<line x1="138.42" y1="223.70" x2="138.42" y2="222.50" stroke="#2a2a2a" stroke-width="1.0" />
<line x1="138.42" y1="172.80" x2="138.42" y2="174.00" stroke="#2a2a2a" stroke-width="1.0" />
<line x1="142.46" y1="223.70" x2="142.46" y2="222.50" stroke="#2a2a2a" stroke-width="1.0" />
<line x1="142.46" y1="172.80" x2="142.46" y2="174.00" stroke="#2a2a2a" stroke-width="1.0" />
<line x1="146.50" y1="223.70" x2="146.50" y2="222.50" stroke="#2a2a2a" stroke-width="1.0" />
<line x1="146.50" y1="172.80" x2="146.50" y2="174.00" stroke="#2a2a2a" stroke-width="1.0" />
<line x1="105.70" y1="222.30" x2="106.90" y2="222.30" stroke="#2a2a2a" stroke-width="0.8" />
<line x1="149.00" y1="222.30" x2="147.80" y2="222.30" stroke="#2a2a2a" stroke-width="0.8" />
<line x1="105.70" y1="212.40" x2="106.90" y2="212.40" stroke="#2a2a2a" stroke-width="0.8" />
<line x1="149.00" y1="212.40" x2="147.80" y2="212.40" stroke="#2a2a2a" stroke-width="0.8" />
<line x1="105.70" y1="202.50" x2="106.90" y2="202.50" stroke="#2a2a2a" stroke-width="0.8" />
<line x1="149.00" y1="202.50" x2="147.80" y2="202.50" stroke="#2a2a2a" stroke-width="0.8" />
<line x1="105.70" y1="192.60" x2="106.90" y2="192.60" stroke="#2a2a2a" stroke-width="0.8" />
<line x1="149.00" y1="192.60" x2="147.80" y2="192.60" stroke="#2a2a2a" stroke-width="0.8" />
<line x1="105.70" y1="182.70" x2="106.90" y2="182.70" stroke="#2a2a2a" stroke-width="0.8" />
<line x1="149.00" y1="182.70" x2="147.80" y2="182.70" stroke="#2a2a2a" stroke-width="0.8" />
<text x="97.60" y="175.90" text-anchor="middle" font-size="10.5" fill="#5a5a5a" >2</text>
<text x="97.60" y="215.10" text-anchor="middle" font-size="10.5" fill="#5a5a5a" >0</text>
<text x="106.10" y="237.70" text-anchor="middle" font-size="10.5" fill="#5a5a5a" >0</text>
<text x="126.30" y="237.70" text-anchor="middle" font-size="10.5" fill="#5a5a5a" >1</text>
<text x="146.50" y="237.70" text-anchor="middle" font-size="10.5" fill="#5a5a5a" >2</text>
<text transform="translate(89.60,199.00) rotate(-90)" text-anchor="middle" font-size="12" fill="#5a5a5a" textLength="21" lengthAdjust="spacingAndGlyphs"><tspan font-style="italic">γ</tspan>(<tspan font-style="italic">λ</tspan>)</text>
<polyline points="107.30,219.60 110.00,216.50 112.00,214.00 112.40,208.50 112.80,222.40 113.50,214.00 116.00,211.50 118.10,207.00 118.50,216.00 120.00,205.00 120.40,215.00 122.00,208.00 125.00,204.00 128.00,199.00 129.60,191.90 130.00,207.20 131.00,198.00 132.50,190.00 132.90,202.00 135.00,193.00 140.00,185.00 145.80,177.50" fill="none" stroke="#f8a31c" stroke-width="1.3" stroke-linejoin="round" stroke-linecap="round" />
<rect x="216.20" y="165.00" width="132.30" height="120.80" fill="none" stroke="#4e4e4e" stroke-width="1.0"/>
<line x1="278.40" y1="285.80" x2="278.40" y2="284.30" stroke="#2a2a2a" stroke-width="1.0" />
<line x1="278.40" y1="165.00" x2="278.40" y2="166.50" stroke="#2a2a2a" stroke-width="1.0" />
<line x1="330.00" y1="285.80" x2="330.00" y2="284.30" stroke="#2a2a2a" stroke-width="1.0" />
<line x1="330.00" y1="165.00" x2="330.00" y2="166.50" stroke="#2a2a2a" stroke-width="1.0" />
<line x1="345.53" y1="285.80" x2="345.53" y2="284.30" stroke="#2a2a2a" stroke-width="1.0" />
<line x1="345.53" y1="165.00" x2="345.53" y2="166.50" stroke="#2a2a2a" stroke-width="1.0" />
<line x1="216.20" y1="250.70" x2="217.70" y2="250.70" stroke="#2a2a2a" stroke-width="1.0" />
<line x1="348.50" y1="250.70" x2="347.00" y2="250.70" stroke="#2a2a2a" stroke-width="1.0" />
<line x1="216.20" y1="215.80" x2="217.70" y2="215.80" stroke="#2a2a2a" stroke-width="1.0" />
<line x1="348.50" y1="215.80" x2="347.00" y2="215.80" stroke="#2a2a2a" stroke-width="1.0" />
<line x1="216.20" y1="180.90" x2="217.70" y2="180.90" stroke="#2a2a2a" stroke-width="1.0" />
<line x1="348.50" y1="180.90" x2="347.00" y2="180.90" stroke="#2a2a2a" stroke-width="1.0" />
<line x1="216.20" y1="275.09" x2="217.20" y2="275.09" stroke="#2a2a2a" stroke-width="0.55" />
<line x1="348.50" y1="275.09" x2="347.50" y2="275.09" stroke="#2a2a2a" stroke-width="0.55" />
<line x1="216.20" y1="268.95" x2="217.20" y2="268.95" stroke="#2a2a2a" stroke-width="0.55" />
<line x1="348.50" y1="268.95" x2="347.50" y2="268.95" stroke="#2a2a2a" stroke-width="0.55" />
<line x1="216.20" y1="264.59" x2="217.20" y2="264.59" stroke="#2a2a2a" stroke-width="0.55" />
<line x1="348.50" y1="264.59" x2="347.50" y2="264.59" stroke="#2a2a2a" stroke-width="0.55" />
<line x1="216.20" y1="261.21" x2="217.20" y2="261.21" stroke="#2a2a2a" stroke-width="0.55" />
<line x1="348.50" y1="261.21" x2="347.50" y2="261.21" stroke="#2a2a2a" stroke-width="0.55" />
<line x1="216.20" y1="258.44" x2="217.20" y2="258.44" stroke="#2a2a2a" stroke-width="0.55" />
<line x1="348.50" y1="258.44" x2="347.50" y2="258.44" stroke="#2a2a2a" stroke-width="0.55" />
<line x1="216.20" y1="256.11" x2="217.20" y2="256.11" stroke="#2a2a2a" stroke-width="0.55" />
<line x1="348.50" y1="256.11" x2="347.50" y2="256.11" stroke="#2a2a2a" stroke-width="0.55" />
<line x1="216.20" y1="254.08" x2="217.20" y2="254.08" stroke="#2a2a2a" stroke-width="0.55" />
<line x1="348.50" y1="254.08" x2="347.50" y2="254.08" stroke="#2a2a2a" stroke-width="0.55" />
<line x1="216.20" y1="252.30" x2="217.20" y2="252.30" stroke="#2a2a2a" stroke-width="0.55" />
<line x1="348.50" y1="252.30" x2="347.50" y2="252.30" stroke="#2a2a2a" stroke-width="0.55" />
<line x1="216.20" y1="240.19" x2="217.20" y2="240.19" stroke="#2a2a2a" stroke-width="0.55" />
<line x1="348.50" y1="240.19" x2="347.50" y2="240.19" stroke="#2a2a2a" stroke-width="0.55" />
<line x1="216.20" y1="234.05" x2="217.20" y2="234.05" stroke="#2a2a2a" stroke-width="0.55" />
<line x1="348.50" y1="234.05" x2="347.50" y2="234.05" stroke="#2a2a2a" stroke-width="0.55" />
<line x1="216.20" y1="229.69" x2="217.20" y2="229.69" stroke="#2a2a2a" stroke-width="0.55" />
<line x1="348.50" y1="229.69" x2="347.50" y2="229.69" stroke="#2a2a2a" stroke-width="0.55" />
<line x1="216.20" y1="226.31" x2="217.20" y2="226.31" stroke="#2a2a2a" stroke-width="0.55" />
<line x1="348.50" y1="226.31" x2="347.50" y2="226.31" stroke="#2a2a2a" stroke-width="0.55" />
<line x1="216.20" y1="223.54" x2="217.20" y2="223.54" stroke="#2a2a2a" stroke-width="0.55" />
<line x1="348.50" y1="223.54" x2="347.50" y2="223.54" stroke="#2a2a2a" stroke-width="0.55" />
<line x1="216.20" y1="221.21" x2="217.20" y2="221.21" stroke="#2a2a2a" stroke-width="0.55" />
<line x1="348.50" y1="221.21" x2="347.50" y2="221.21" stroke="#2a2a2a" stroke-width="0.55" />
<line x1="216.20" y1="219.18" x2="217.20" y2="219.18" stroke="#2a2a2a" stroke-width="0.55" />
<line x1="348.50" y1="219.18" x2="347.50" y2="219.18" stroke="#2a2a2a" stroke-width="0.55" />
<line x1="216.20" y1="217.40" x2="217.20" y2="217.40" stroke="#2a2a2a" stroke-width="0.55" />
<line x1="348.50" y1="217.40" x2="347.50" y2="217.40" stroke="#2a2a2a" stroke-width="0.55" />
<line x1="216.20" y1="205.29" x2="217.20" y2="205.29" stroke="#2a2a2a" stroke-width="0.55" />
<line x1="348.50" y1="205.29" x2="347.50" y2="205.29" stroke="#2a2a2a" stroke-width="0.55" />
<line x1="216.20" y1="199.15" x2="217.20" y2="199.15" stroke="#2a2a2a" stroke-width="0.55" />
<line x1="348.50" y1="199.15" x2="347.50" y2="199.15" stroke="#2a2a2a" stroke-width="0.55" />
<line x1="216.20" y1="194.79" x2="217.20" y2="194.79" stroke="#2a2a2a" stroke-width="0.55" />
<line x1="348.50" y1="194.79" x2="347.50" y2="194.79" stroke="#2a2a2a" stroke-width="0.55" />
<line x1="216.20" y1="191.41" x2="217.20" y2="191.41" stroke="#2a2a2a" stroke-width="0.55" />
<line x1="348.50" y1="191.41" x2="347.50" y2="191.41" stroke="#2a2a2a" stroke-width="0.55" />
<line x1="216.20" y1="188.64" x2="217.20" y2="188.64" stroke="#2a2a2a" stroke-width="0.55" />
<line x1="348.50" y1="188.64" x2="347.50" y2="188.64" stroke="#2a2a2a" stroke-width="0.55" />
<line x1="216.20" y1="186.31" x2="217.20" y2="186.31" stroke="#2a2a2a" stroke-width="0.55" />
<line x1="348.50" y1="186.31" x2="347.50" y2="186.31" stroke="#2a2a2a" stroke-width="0.55" />
<line x1="216.20" y1="184.28" x2="217.20" y2="184.28" stroke="#2a2a2a" stroke-width="0.55" />
<line x1="348.50" y1="184.28" x2="347.50" y2="184.28" stroke="#2a2a2a" stroke-width="0.55" />
<line x1="216.20" y1="182.50" x2="217.20" y2="182.50" stroke="#2a2a2a" stroke-width="0.55" />
<line x1="348.50" y1="182.50" x2="347.50" y2="182.50" stroke="#2a2a2a" stroke-width="0.55" />
<text x="205.20" y="184.85" text-anchor="end" font-size="10.5" fill="#5a5a5a" >10</text>
<text x="205.60" y="180.45" text-anchor="start" font-size="7.2" fill="#5a5a5a" >2</text>
<text x="204.90" y="219.60" text-anchor="end" font-size="10.5" fill="#5a5a5a" >10</text>
<text x="205.40" y="215.20" text-anchor="start" font-size="7.2" fill="#5a5a5a" >1</text>
<text x="204.90" y="254.40" text-anchor="end" font-size="10.5" fill="#5a5a5a" >10</text>
<text x="205.40" y="250.00" text-anchor="start" font-size="7.2" fill="#5a5a5a" >0</text>
<text x="200.40" y="289.00" text-anchor="end" font-size="10.5" fill="#5a5a5a" >10</text>
<text x="206.60" y="284.60" text-anchor="start" font-size="7.2" fill="#5a5a5a" >1</text>
<line x1="201.20" y1="282.70" x2="206.00" y2="282.70" stroke="#6a6a6a" stroke-width="0.7" />
<text x="215.80" y="298.90" text-anchor="middle" font-size="10.5" fill="#5a5a5a" >0.006</text>
<text x="277.90" y="299.10" text-anchor="middle" font-size="10.5" fill="#5a5a5a" >0.1</text>
<text x="329.90" y="299.20" text-anchor="middle" font-size="10.5" fill="#5a5a5a" >1</text>
<text x="345.00" y="299.20" text-anchor="middle" font-size="10.5" fill="#5a5a5a" >2</text>
<text x="228.85" y="276.80" text-anchor="middle" font-size="10.5" fill="#5a5a5a" >(d)</text>
<text x="263.80" y="314.30" text-anchor="middle" font-size="10.5" fill="#5a5a5a" >1</text>
<line x1="268.20" y1="311.40" x2="276.10" y2="311.40" stroke="#6a6a6a" stroke-width="0.8" />
<text x="282.60" y="314.30" text-anchor="middle" font-size="10.5" fill="#5a5a5a" font-style="italic">λ</text>
<line x1="290.30" y1="306.60" x2="285.70" y2="316.50" stroke="#555" stroke-width="0.85" />
<text x="293.60" y="314.30" text-anchor="middle" font-size="10.5" fill="#5a5a5a" >2</text>
<text x="299.00" y="314.30" text-anchor="middle" font-size="11.5" fill="#5a5a5a" font-style="italic">J</text>
<g transform="translate(190.40,225.05) rotate(-90)"><path d="M-11.30,-7.4 L-15.20,-2.45 L-11.30,2.5" fill="none" stroke="#5a5a5a" stroke-width="0.75"/><text x="-10.30" y="0" font-size="12" fill="#5a5a5a" textLength="21.40" lengthAdjust="spacingAndGlyphs"><tspan font-style="italic">s</tspan><tspan font-size="7.5" dy="-4.2">2</tspan><tspan dy="4.2">(</tspan><tspan font-style="italic">λ</tspan>)</text><path d="M11.70,-7.4 L15.20,-2.45 L11.70,2.5" fill="none" stroke="#5a5a5a" stroke-width="0.75"/></g>
<text x="272.00" y="255.60" text-anchor="middle" font-size="10.5" fill="#5a5a5a" font-style="italic">x</text>
<line x1="276.00" y1="249.90" x2="280.30" y2="249.90" stroke="#6a6a6a" stroke-width="0.7" />
<text x="281.00" y="252.60" text-anchor="start" font-size="7.4" fill="#5a5a5a" textLength="9" lengthAdjust="spacing">1.1</text>
<polyline points="216.60,180.90 220.00,181.40 221.80,182.80 224.20,185.10 226.00,186.00 227.90,186.90 230.60,189.70 237.10,194.30 244.00,199.40 258.40,210.00 279.60,225.80 285.80,230.40 300.00,240.80 345.00,274.50" fill="none" stroke="#6c6c6c" stroke-width="1.15" stroke-linejoin="round" stroke-linecap="round" />
<line x1="263.05" y1="223.05" x2="265.35" y2="224.75" stroke="#111" stroke-width="1.5" />
<line x1="268.45" y1="227.05" x2="270.75" y2="228.75" stroke="#111" stroke-width="1.5" />
<line x1="273.85" y1="231.05" x2="276.15" y2="232.75" stroke="#111" stroke-width="1.5" />
<line x1="279.25" y1="235.05" x2="281.55" y2="236.75" stroke="#111" stroke-width="1.5" />
<line x1="284.65" y1="239.06" x2="286.95" y2="240.76" stroke="#111" stroke-width="1.5" />
<line x1="290.05" y1="243.06" x2="292.35" y2="244.76" stroke="#111" stroke-width="1.5" />
<line x1="295.45" y1="247.06" x2="297.75" y2="248.76" stroke="#111" stroke-width="1.5" />
<line x1="300.85" y1="251.06" x2="303.15" y2="252.76" stroke="#111" stroke-width="1.5" />
<line x1="306.25" y1="255.06" x2="308.55" y2="256.76" stroke="#111" stroke-width="1.5" />
<line x1="311.65" y1="259.06" x2="313.95" y2="260.76" stroke="#111" stroke-width="1.5" />
<polyline points="263.60,202.40 278.40,218.40 284.00,225.00 287.40,230.00 291.40,233.30 296.80,236.40 303.70,241.30 309.60,246.20 313.00,249.30" fill="none" stroke="#e8141e" stroke-width="1.1" stroke-linejoin="round" stroke-linecap="round" />
<line x1="304.70" y1="239.20" x2="304.70" y2="244.00" stroke="#f8a31c" stroke-width="1.1" />
<line x1="306.60" y1="248.00" x2="306.60" y2="252.80" stroke="#f8a31c" stroke-width="1.1" />
<line x1="310.60" y1="247.00" x2="310.60" y2="252.00" stroke="#f8a31c" stroke-width="1.1" />
<line x1="313.60" y1="251.80" x2="313.60" y2="256.00" stroke="#f8a31c" stroke-width="1.1" />
<line x1="319.10" y1="252.30" x2="319.10" y2="259.00" stroke="#f8a31c" stroke-width="1.1" />
<line x1="321.80" y1="254.50" x2="321.80" y2="257.50" stroke="#f8a31c" stroke-width="1.1" />
<line x1="328.80" y1="261.00" x2="328.80" y2="265.60" stroke="#f8a31c" stroke-width="1.1" />
<line x1="333.70" y1="264.30" x2="333.70" y2="268.30" stroke="#f8a31c" stroke-width="1.1" />
<polyline points="242.00,178.40 248.60,196.10 255.00,202.40 262.40,209.80 269.80,217.80 273.50,219.60 276.50,220.80 279.60,224.50 283.30,228.60 288.20,232.60 291.40,235.00 298.80,240.20 306.60,246.60 316.00,253.60 344.80,274.80" fill="none" stroke="#101010" stroke-width="1.5" stroke-linejoin="round" stroke-linecap="round" />
</svg></body></html>
